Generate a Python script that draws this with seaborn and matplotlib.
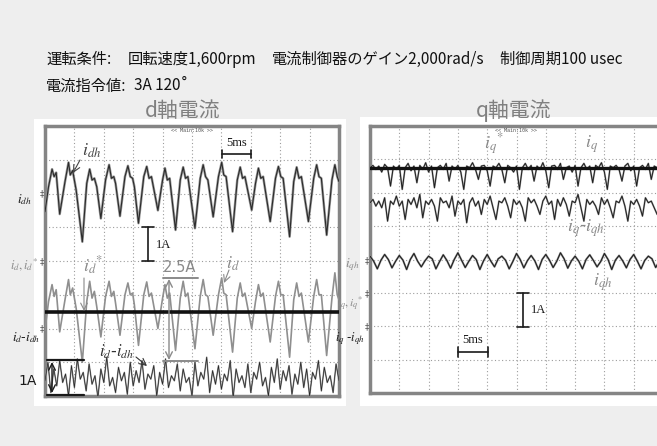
import numpy as np
import matplotlib
matplotlib.use("Agg")
import matplotlib.pyplot as plt
import seaborn as sns
from matplotlib.transforms import Affine2D
from matplotlib.lines import Line2D
from matplotlib.patches import Rectangle

# ---------------------------------------------------------------- data
# d-axis harmonic current i_dh [A] (time in ms)
t_dh = [0.0, 0.6, 1.2, 1.55, 1.9, 2.5, 3.4, 4.0, 4.3, 4.7, 5.3, 6.35, 7.1, 7.6, 8.0, 8.4,
        8.8, 9.5, 10.3, 10.9, 11.3, 11.7, 12.0, 12.75, 13.6, 14.1, 14.5, 14.9, 15.2, 15.9,
        16.8, 17.3, 17.7, 18.1, 19.2, 20.0, 20.4, 20.8, 21.2, 22.2, 23.0, 23.5, 23.9, 24.3,
        25.5, 26.4, 26.9, 27.3, 27.7, 28.6, 29.5, 30.05, 30.4, 30.8, 31.9, 32.7, 33.2, 33.6,
        34.0, 35.15, 35.8, 36.3, 36.7, 37.1, 38.3, 39.2, 39.7, 40.1, 40.5, 41.6, 42.3, 42.8,
        43.2, 43.6, 44.8, 45.7, 46.2, 46.6, 47.0, 47.9, 48.8, 49.3, 49.7, 50.0]
i_dh = [-0.55, 0.20, 0.72, 0.50, 0.62, -0.61, 0.35, 0.92, 0.55, 0.68, 0.10, -1.43, 0.30, 0.72,
        0.40, 0.45, 0.20, -0.74, 0.40, 0.85, 0.45, 0.50, 0.30, -0.67, 0.50, 0.82, 0.50, 0.45,
        0.20, -0.88, 0.50, 0.80, 0.45, 0.50, -0.50, 0.40, 0.75, 0.40, 0.45, -1.08, 0.40, 0.78,
        0.45, 0.50, -1.03, 0.45, 0.85, 0.50, 0.40, -0.69, 0.50, 0.92, 0.55, 0.50, -1.13, 0.40,
        0.78, 0.45, 0.50, -0.49, 0.30, 0.75, 0.45, 0.50, -0.83, 0.45, 0.80, 0.50, 0.45, -1.28,
        0.35, 0.78, 0.45, 0.50, -0.83, 0.45, 0.85, 0.50, 0.45, -1.23, 0.40, 0.85, 0.50, 0.35]
# d-axis current i_d [A], same sampling instants
i_d = [-2.05, -1.20, -0.70, -1.05, -0.85, -2.10, -1.15, -0.55, -1.00, -0.80, -1.40, -3.00,
       -1.20, -0.60, -1.10, -0.90, -1.35, -2.25, -1.05, -0.60, -1.05, -0.90, -1.25, -2.20,
       -1.00, -0.65, -1.00, -0.95, -1.30, -2.50, -1.00, -0.62, -1.05, -0.95, -2.00, -1.10,
       -0.70, -1.10, -0.95, -2.65, -1.10, -0.60, -1.05, -0.95, -2.60, -1.05, -0.55, -1.00,
       -1.05, -2.20, -1.00, -0.50, -0.95, -1.00, -2.70, -1.10, -0.65, -1.05, -0.95, -2.00,
       -1.20, -0.70, -1.05, -0.95, -2.40, -1.05, -0.60, -1.00, -1.00, -2.85, -1.15, -0.65,
       -1.05, -0.95, -2.40, -1.05, -0.55, -1.00, -1.00, -2.80, -1.10, -0.35, -1.00, -1.15]
# d-axis reference i_d* [A]
t_ref = [0.0, 50.0]
i_d_ref = [-1.5, -1.5]
# i_d - i_dh [A], 0.5 ms steps
t_fast = np.arange(0, 50.01, 0.5)
i_d_diff = [-1.55, -1.0, -1.9, -1.2, -1.7, -0.95, -1.6, -1.35, -2.0, -1.1,
            -1.75, -0.9, -1.5, -1.3, -1.85, -1.05, -1.65, -1.4, -2.05, -1.2,
            -1.6, -0.85, -1.7, -1.45, -1.9, -1.15, -1.55, -1.3, -1.95, -1.0,
            -1.7, -1.25, -1.6, -0.95, -1.8, -1.35, -1.5, -1.1, -2.0, -1.3,
            -1.65, -0.9, -1.75, -1.4, -1.55, -1.05, -1.85, -1.2, -1.6, -1.45,
            -2.0, -1.0, -1.7, -1.3, -1.5, -0.85, -1.9, -1.25, -1.65, -1.1,
            -1.8, -1.35, -1.55, -0.95, -2.05, -1.2, -1.6, -1.4, -1.75, -1.05,
            -1.9, -1.3, -1.5, -1.0, -1.7, -1.45, -2.0, -1.15, -1.6, -0.9,
            -1.8, -1.25, -1.55, -1.1, -1.95, -1.35, -1.65, -1.0, -1.75, -1.2,
            -2.0, -1.3, -1.5, -0.95, -1.85, -1.15, -1.6, -1.4, -1.9, -1.05, -1.55]

# q-axis current i_q and reference i_q* [A]
i_q = [3.75, 3.82, 3.7, 3.8, 3.62, 3.85, 3.75, 3.2, 3.8, 3.7,
       3.82, 3.1, 3.75, 3.88, 3.66, 3.8, 3.3, 3.82, 3.7, 3.9,
       3.62, 3.8, 3.15, 3.75, 3.82, 3.7, 3.88, 3.35, 3.8, 3.7,
       3.82, 3.62, 3.1, 3.8, 3.75, 3.9, 3.7, 3.4, 3.8, 3.82,
       3.66, 3.2, 3.8, 3.75, 3.88, 3.7, 3.3, 3.82, 3.75, 3.62,
       3.8, 3.1, 3.75, 3.88, 3.7, 3.82, 3.35, 3.8, 3.7, 3.9,
       3.66, 3.15, 3.8, 3.82, 3.7, 3.88, 3.4, 3.75, 3.8, 3.62,
       3.82, 3.2, 3.75, 3.88, 3.7, 3.8, 3.3, 3.82, 3.75, 3.9,
       3.62, 3.1, 3.8, 3.75, 3.82, 3.7, 3.35, 3.8, 3.88, 3.66,
       3.8, 3.2, 3.75, 3.82, 3.7, 3.88, 3.4, 3.8, 3.75, 3.62, 3.8]
i_q_ref = [3.75, 3.75]
# i_q - i_qh [A]
i_q_diff = [3.7, 3.8, 3.6, 3.75, 3.55, 3.85, 3.15, 3.75, 3.65, 3.9,
            3.6, 3.75, 3.2, 3.8, 3.65, 3.85, 3.55, 3.95, 3.25, 3.75,
            3.65, 3.8, 3.6, 3.15, 3.85, 3.7, 3.75, 3.55, 3.9, 3.3,
            3.75, 3.65, 3.8, 3.1, 3.7, 3.85, 3.6, 3.75, 3.35, 3.8,
            3.65, 3.9, 3.55, 3.2, 3.75, 3.7, 3.85, 3.6, 3.25, 3.8,
            3.65, 3.75, 3.55, 3.15, 3.85, 3.7, 3.8, 3.6, 3.35, 3.75,
            3.9, 3.65, 3.75, 3.2, 3.8, 3.6, 3.85, 3.65, 3.3, 3.75,
            3.7, 3.95, 3.55, 3.15, 3.8, 3.65, 3.75, 3.6, 3.35, 3.85,
            3.65, 3.8, 3.55, 3.25, 3.75, 3.7, 3.9, 3.6, 3.15, 3.75,
            3.65, 3.8, 3.6, 3.3, 3.85, 3.7, 3.75, 3.55, 3.35, 3.8, 3.65]
# q-axis harmonic current i_qh [A], 0.625 ms steps
t_qh = np.arange(0, 50.01, 0.625)
i_qh = [0.10, -0.05, -0.28, -0.02, 0.15, 0.00, -0.25, -0.05, 0.12, -0.02, -0.30, 0.00,
        0.18, -0.05, -0.22, -0.04, 0.10, 0.02, -0.28, -0.06, 0.14, -0.03, -0.26, 0.00,
        0.20, -0.02, -0.24, -0.05, 0.12, 0.00, -0.30, -0.04, 0.15, -0.05, -0.22, 0.02,
        0.10, -0.02, -0.28, -0.06, 0.18, 0.00, -0.25, -0.03, 0.12, -0.04, -0.30, 0.00,
        0.15, -0.02, -0.24, -0.05, 0.20, 0.02, -0.26, -0.04, 0.10, -0.05, -0.28, 0.00,
        0.14, -0.03, -0.22, -0.06, 0.18, 0.00, -0.30, -0.02, 0.12, -0.04, -0.25, 0.00,
        0.15, -0.05, -0.28, -0.03, 0.10, 0.02, -0.24, -0.05, 0.14]

# channel ground levels on the screen (divisions from the bottom)
zero_dh, zero_d, zero_ddiff = 6, 4, 2
zero_qh, zero_q, zero_qdiff = 4, 3, 2

# ---------------------------------------------------------------- figure
W, H = 657, 446
sns.set_theme(style="white")
plt.rcParams["font.family"] = ["Noto Sans CJK JP", "DejaVu Sans"]
plt.rcParams["mathtext.fontset"] = "stix"

fig = plt.figure(figsize=(W / 100, H / 100), dpi=100, facecolor="#eeeeee")
pix = Affine2D().scale(1 / W, -1 / H).translate(0, 1) + fig.transFigure

GRAY = "#8a8a8a"
DARK = "#1a1a1a"

for (x0, y0, w, h) in [(34, 119, 312, 287), (360, 117, 310, 289)]:
    fig.add_artist(Rectangle((x0, y0), w, h, transform=pix, facecolor="white",
                             edgecolor="none", zorder=-5))

axL = fig.add_axes([45 / W, 1 - 396 / H, 294 / W, 270 / H])
axR = fig.add_axes([370 / W, 1 - 393 / H, 293 / W, 267 / H])
for ax in (axL, axR):
    ax.set_xlim(0, 50)
    ax.set_ylim(0, 8)
    ax.set_xticks(np.arange(0, 51, 5))
    ax.set_yticks(np.arange(0, 9, 1))
    ax.grid(True, linestyle=(0, (1, 2.2)), color="#9c9c9c", linewidth=0.8)
    ax.tick_params(length=0, labelbottom=False, labelleft=False)
    ax.set_xlabel("")
    ax.set_ylabel("")
    for s in ax.spines.values():
        s.set_color("#858585")
        s.set_linewidth(2.5)
    ax.set_facecolor("white")


def trace(ax, t, v, zero, color, lw, halo=None, halo_lw=1.0, z=3):
    y = np.asarray(v) + zero
    if halo:
        sns.lineplot(x=t, y=y, ax=ax, color=halo, lw=lw + halo_lw, estimator=None, zorder=z)
    sns.lineplot(x=t, y=y, ax=ax, color=color, lw=lw, estimator=None, zorder=z + 0.1)


# d-axis panel
trace(axL, t_dh, i_dh, zero_dh, "#2b2b2b", 0.8, halo="#9a9a9a")
trace(axL, t_dh, i_d, zero_d, "#8f8f8f", 1.2, z=3)
trace(axL, t_fast, i_d_diff, zero_ddiff, "#8f8f8f", 1.1, z=3)
trace(axL, t_fast, i_d_diff, zero_ddiff, "#222222", 0.45, z=4)
trace(axL, t_ref, i_d_ref, zero_d, "#111111", 2.6, z=5)

# q-axis panel
trace(axR, t_fast, i_q, zero_q, "#1f1f1f", 0.7, halo="#a0a0a0", halo_lw=0.6)
trace(axR, t_ref, i_q_ref, zero_q, "#111111", 2.4, z=5)
trace(axR, t_fast, i_q_diff, zero_qdiff, "#1f1f1f", 0.7, halo="#a0a0a0", halo_lw=0.6)
trace(axR, t_qh, i_qh, zero_qh, "#1f1f1f", 0.8, halo="#a0a0a0", halo_lw=0.7)

# ---------------------------------------------------------------- texts
def ftext(x, y, s, **kw):
    fig.text(x, y, s, transform=pix, **kw)


def seg(xs, ys, color=DARK, lw=1.2):
    fig.add_artist(Line2D(xs, ys, transform=pix, color=color, lw=lw, zorder=10))


def arrow(x0, y0, x1, y1, color=DARK, style="->", lw=0.8):
    axL.annotate("", xy=(x1, y1), xytext=(x0, y0), xycoords=pix, textcoords=pix,
                 arrowprops=dict(arrowstyle=style, color=color, lw=lw,
                                 shrinkA=0, shrinkB=0), annotation_clip=False, zorder=10)


# operating conditions header
hdr = dict(fontsize=11, va="center", ha="left", color="#111111")
ftext(46, 59, "運転条件:", **hdr)
ftext(128, 59, "回転速度1,600rpm", **hdr)
ftext(272, 59, "電流制御器のゲイン2,000rad/s", **hdr)
ftext(500, 59, "制御周期100 usec", **hdr)
ftext(46, 86, "電流指令値:", **hdr)
ftext(134, 86, "3A 120˚", **hdr)

ftext(183, 111, "d軸電流", fontsize=15, ha="center", va="center", color="#808080")
ftext(514, 111, "q軸電流", fontsize=15, ha="center", va="center", color="#808080")

for cx in (192, 516):
    ftext(cx, 130, "<< Main:10k >>", fontsize=3.6, ha="center", va="center",
          color="#555555", family="DejaVu Sans Mono")

serif = "Liberation Serif"
# time and amplitude scale bars, d-axis panel
seg([222, 251], [154, 154]); seg([222, 222], [150, 158]); seg([251, 251], [150, 158])
ftext(236.5, 143, "5ms", fontsize=9, ha="center", va="center", family=serif, color=DARK)
seg([148, 148], [227, 261]); seg([142, 154], [227, 227]); seg([142, 154], [261, 261])
ftext(156, 245, "1A", fontsize=9, ha="left", va="center", family=serif, color=DARK)

# peak-to-peak marker
seg([163, 198], [278, 278], color=GRAY, lw=1.4); seg([163, 198], [361, 361], color=GRAY, lw=1.4)
arrow(169, 279, 169, 360, color=GRAY, style="<->", lw=1.0)
ftext(180, 268, "2.5A", fontsize=10.5, ha="center", va="center", color=GRAY, family="DejaVu Sans")

# 1A bracket at the lower left
seg([47, 84], [360, 360], lw=1.6); seg([47, 84], [395, 395], lw=1.6)
arrow(52, 362, 52, 393, color=DARK, style="<->", lw=1.0)
ftext(28, 381, "1A", fontsize=10, ha="center", va="center", color=DARK, family="DejaVu Sans")

# trace names, d-axis panel
ftext(92, 151, r"$i_{dh}$", fontsize=13, ha="center", va="center", color="#444444")
arrow(80, 160, 73, 173, color="#444444")
ftext(93, 266, r"$i_{d}{}^{*}$", fontsize=13, ha="center", va="center", color=GRAY)
arrow(84, 278, 84, 311, color=GRAY)
ftext(233, 264, r"$i_{d}$", fontsize=13, ha="center", va="center", color=GRAY)
arrow(229, 270, 224, 283, color=GRAY)
ftext(117, 352, r"$i_{d}$-$i_{dh}$", fontsize=12, ha="center", va="center", color="#333333")
arrow(136, 357, 147, 366, color="#333333")

# channel labels at the left of each screen
ftext(24, 200, r"$i_{dh}$", fontsize=9.5, ha="center", va="center", color=DARK)
ftext(24, 265, r"$i_{d}, i_{d}{}^{*}$", fontsize=9, ha="center", va="center", color=GRAY)
ftext(26, 338, r"$i_{d}$-$i_{dh}$", fontsize=9.5, ha="center", va="center", color=DARK)
ftext(352, 265, r"$i_{qh}$", fontsize=9.5, ha="center", va="center", color=GRAY)
ftext(350, 304, r"$i_{q}, i_{q}{}^{*}$", fontsize=8.5, ha="center", va="center", color=GRAY)
ftext(350, 339, r"$i_{q}$ -$i_{qh}$", fontsize=9, ha="center", va="center", color=DARK)
for (gx, gy) in [(42, 194), (42, 262), (42, 329), (367, 261), (367, 294), (367, 327)]:
    ftext(gx, gy, "‡", fontsize=6, ha="center", va="center", color="#555555",
          family="DejaVu Sans")

# trace names, q-axis panel
ftext(494, 144, r"$i_{q}{}^{*}$", fontsize=13, ha="center", va="center", color=GRAY)
arrow(497, 154, 499, 166, color=GRAY)
ftext(592, 144, r"$i_{q}$", fontsize=13, ha="center", va="center", color=GRAY)
arrow(586, 157, 576, 163, color=GRAY)
ftext(586, 228, r"$i_{q}$-$i_{qh}$", fontsize=13, ha="center", va="center", color=GRAY)
arrow(603, 213, 598, 203, color=GRAY)
ftext(603, 282, r"$i_{qh}$", fontsize=13, ha="center", va="center", color=GRAY)
arrow(592, 273, 582, 265, color="#444444")

# scale bars, q-axis panel
seg([523, 523], [293, 327]); seg([517, 529], [293, 293]); seg([517, 529], [327, 327])
ftext(531, 310, "1A", fontsize=9, ha="left", va="center", family=serif, color=DARK)
seg([458, 488], [352, 352]); seg([458, 458], [347, 357]); seg([488, 488], [347, 357])
ftext(473, 340, "5ms", fontsize=9, ha="center", va="center", family=serif, color=DARK)

fig.savefig("out.png", dpi=100, facecolor=fig.get_facecolor())
